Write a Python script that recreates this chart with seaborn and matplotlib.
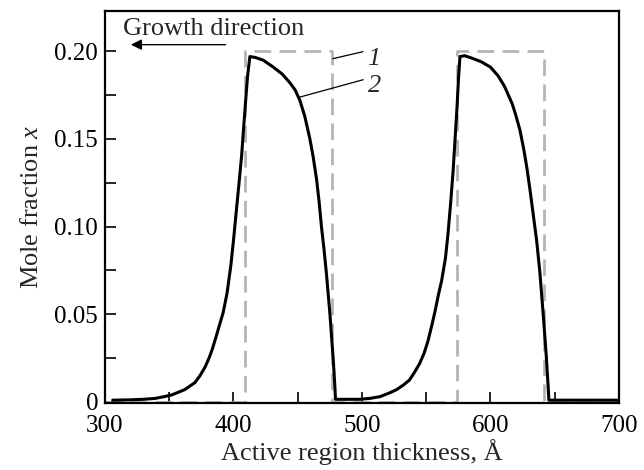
import numpy as np
import pandas as pd
import matplotlib
matplotlib.use("Agg")
import matplotlib.pyplot as plt
from matplotlib.ticker import MultipleLocator, FixedLocator
import seaborn as sns

# Curve 1: nominal rectangular profile
x_nominal = [300, 409, 409, 476.5, 476.5, 574, 574, 642, 642, 700]
y_nominal = [0, 0, 0.20, 0.20, 0, 0, 0.20, 0.20, 0, 0]

# Curve 2: calculated (smeared) profile
x_calc = [306, 320, 330, 339, 346, 352, 357, 362, 366, 370, 374, 378, 381,
          383.5, 386, 388, 390, 392, 395, 398, 400, 402.5, 404.5, 406.3,
          408, 409.5, 411, 412.8, 417, 423, 431, 438, 444, 448, 451.7,
          455.5, 459.5, 462, 464.7, 466.7, 468.5, 470.5, 472.4, 475,
          477.7, 479, 479.4, 483, 498, 506, 514, 521, 527, 532, 537, 541,
          545, 548.5, 551.5, 554.5, 557, 559.5, 562, 565, 567, 569, 571,
          572.5, 574, 575.2, 576.3, 580, 586, 593, 600, 606, 611, 617,
          620, 623, 626, 628.5, 631, 633.5, 636, 638.5, 641.3, 643.5, 645,
          645.5, 660, 680, 700]
y_calc = [0.001, 0.0012, 0.0015, 0.002, 0.003, 0.004, 0.0055, 0.007, 0.009,
          0.011, 0.015, 0.020, 0.025, 0.030, 0.036, 0.041, 0.046, 0.051,
          0.062, 0.078, 0.092, 0.111, 0.126, 0.140, 0.157, 0.172, 0.186,
          0.197, 0.1965, 0.195, 0.191, 0.187, 0.182, 0.178, 0.172, 0.163,
          0.150, 0.140, 0.127, 0.114, 0.100, 0.087, 0.073, 0.051, 0.024,
          0.008, 0.0015, 0.0015, 0.0015, 0.002, 0.003, 0.005, 0.007,
          0.0095, 0.0125, 0.017, 0.022, 0.028, 0.035, 0.044, 0.052, 0.061,
          0.069, 0.082, 0.096, 0.113, 0.132, 0.150, 0.168, 0.185, 0.197,
          0.1975, 0.196, 0.194, 0.191, 0.186, 0.180, 0.170, 0.163, 0.155,
          0.144, 0.133, 0.120, 0.106, 0.092, 0.074, 0.048, 0.026, 0.008,
          0.001, 0.001, 0.001, 0.001]

x_ticks = [300, 400, 500, 600, 700]
y_ticks = [0, 0.05, 0.10, 0.15, 0.20]
y_tick_labels = ["0", "0.05", "0.10", "0.15", "0.20"]

sns.set_style("ticks")
plt.rcParams["font.family"] = ["Liberation Serif", "DejaVu Serif"]
plt.rcParams["mathtext.fontset"] = "custom"
plt.rcParams["mathtext.rm"] = "Liberation Serif"
plt.rcParams["mathtext.it"] = "Liberation Serif:italic"

fig = plt.figure(figsize=(6.44, 4.70), dpi=100)
ax = fig.add_axes([0.163, 0.1426, 0.798, 0.834])

df1 = pd.DataFrame({"x": x_nominal, "y": y_nominal})
df2 = pd.DataFrame({"x": x_calc, "y": y_calc})

sns.lineplot(data=df1, x="x", y="y", sort=False, estimator=None, ax=ax,
             color="#b4b4b4", linewidth=2.0, dashes=False)
ax.lines[-1].set_dashes([6, 3])
sns.lineplot(data=df2, x="x", y="y", sort=False, estimator=None, ax=ax,
             color="black", linewidth=2.2)

ax.set_xlim(300, 700)
ax.set_ylim(-0.0006, 0.223)
ax.xaxis.set_major_locator(FixedLocator(x_ticks))
ax.xaxis.set_minor_locator(MultipleLocator(50))
ax.yaxis.set_major_locator(FixedLocator(y_ticks))
ax.set_yticklabels(y_tick_labels)
ax.yaxis.set_minor_locator(MultipleLocator(0.025))
ax.tick_params(which="both", direction="in", length=8, width=1.2,
               labelsize=18, top=False, right=False, colors="black")
ax.tick_params(axis="x", pad=9)
ax.tick_params(axis="y", pad=5)
for s in ax.spines.values():
    s.set_linewidth(1.6)
    s.set_color("black")

ax.set_xlabel("Active region thickness, Å", fontsize=19, labelpad=1)
ax.set_ylabel(r"Mole fraction $\mathit{x}$", fontsize=19, labelpad=8)

# annotations
ax.text(314, 0.2125, "Growth direction", fontsize=19, va="center", ha="left")
ax.annotate("", xy=(318, 0.2038), xytext=(396, 0.2038),
            arrowprops=dict(arrowstyle="-|>", color="black", lw=1.0,
                            mutation_scale=16))
ax.plot([477.4, 500.8], [0.1958, 0.1998], color="black", lw=0.9)
ax.plot([451.7, 501.0], [0.1739, 0.1838], color="black", lw=0.9)
ax.text(509, 0.1955, "1", fontsize=19, style="italic", ha="center", va="center")
ax.text(510, 0.1805, "2", fontsize=19, style="italic", ha="center", va="center")

fig.savefig("out.png", dpi=100)
